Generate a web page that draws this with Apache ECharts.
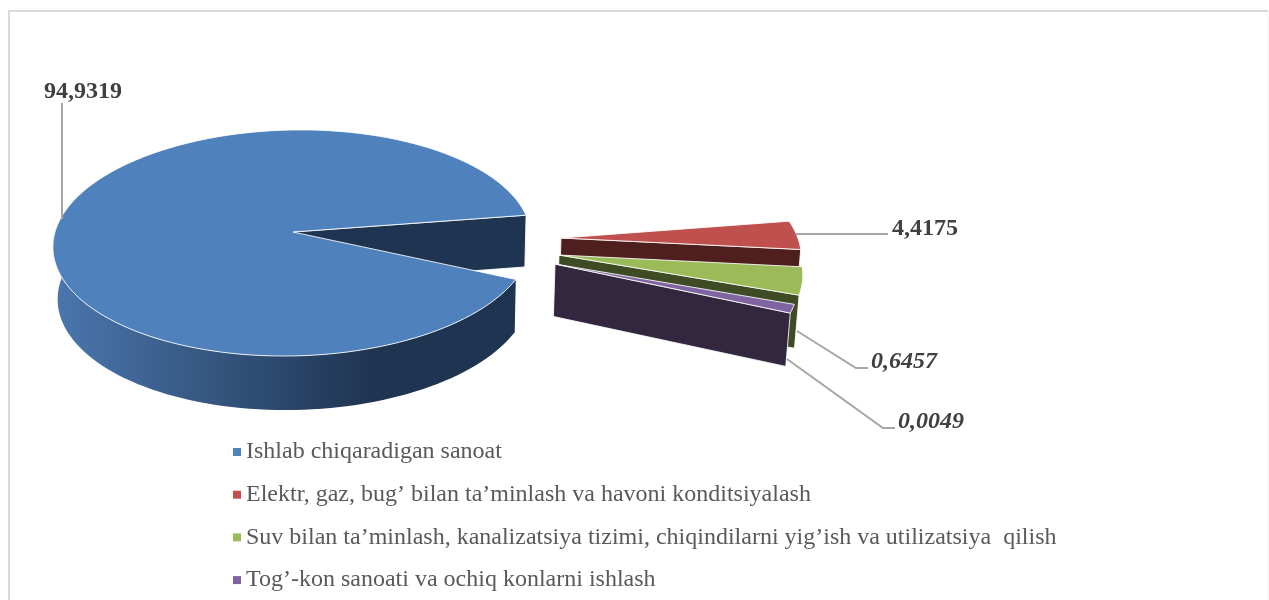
<!DOCTYPE html>
<html>
<head>
<meta charset="utf-8">
<style>
  html, body { margin: 0; padding: 0; background: #fff; }
  #chart { width: 1269px; height: 600px; }
</style>
</head>
<body>
<div id="chart"></div>
<script src="https://cdn.jsdelivr.net/npm/echarts@6/dist/echarts.min.js"></script>
<script>
// categories, in legend order
const categories = [
  'Ishlab chiqaradigan sanoat',
  'Elektr, gaz, bug’ bilan ta’minlash va havoni konditsiyalash',
  'Suv bilan ta’minlash, kanalizatsiya tizimi, chiqindilarni yig’ish va utilizatsiya  qilish',
  'Tog’-kon sanoati va ochiq konlarni ishlash'
];
// the numbers printed beside the slices
const valueLabels = ['94,9319', '4,4175', '0,6457', '0,0049'];
// slice sizes as drawn in the picture (% of the circle); they differ from the printed numbers
const drawnShares = [90.9, 4.05, 3.85, 1.2];

// pie layout
const startDeg = 24;
const radiusX = 238;
const radiusY = 112;
const perspective = 0.097;
const cameraX = 380;
const wallCameraX = 430;
const horizonY = 232;
const depth = 52;
const apexes = [[293, 232], [561, 238], [559, 255], [555, 264]];
const sliceRadius = [1, 0.99, 0.99, 0.98];

// colours
const topColors = ['#4f81bd', '#c0504d', '#9bbb59', '#8064a2'];
const sideColors = ['#1f3450', '#4f1f1d', '#3f4c23', '#33273f'];
const blueWall = {
  type: 'linear', x: 58, y: 0, x2: 375, y2: 0, global: true,
  colorStops: [{offset: 0, color: '#4a76ad'}, {offset: 1, color: '#1f3450'}]
};

// leader lines and text spots
const leaders = [
  [[62, 103], [62, 219]],
  [[796, 234], [888, 234]],
  [[797, 331], [856, 368], [868, 368]],
  [[787, 359], [883, 428], [895, 428]]
];
const labelSpots = [[83, 92], [925, 229], [904, 362], [931, 422]];
const labelItalic = [false, false, true, true];

// top plane point for a screen angle, seen through a simple camera
function topPoint(apex, deg, r) {
  const a = (apex[1] - horizonY) / radiusY;
  const v0 = a / (1 + perspective * a);
  const x0 = cameraX + (apex[0] - cameraX) * (1 - perspective * v0);
  const t = deg * Math.PI / 180;
  const worldX = x0 + radiusX * Math.cos(t) * r;
  const worldV = v0 + Math.sin(t) * r;
  const w = 1 - perspective * worldV;
  return [cameraX + (worldX - cameraX) / w, horizonY + radiusY * worldV / w];
}

// same point at the bottom of the pie
function bottomPoint(p) {
  return [p[0] - (p[0] - wallCameraX) * 0.0125, p[1] + depth + 0.016 * (p[1] - horizonY)];
}

function arcPoints(apex, from, to, r) {
  const pts = [];
  const n = Math.max(2, Math.ceil(Math.abs(to - from) / 2));
  for (let i = 0; i <= n; i++) {
    pts.push(topPoint(apex, from + (to - from) * i / n, r));
  }
  return pts;
}

function sliceStart(index) {
  let from = startDeg;
  for (let i = 0; i < index; i++) from += drawnShares[i] * 3.6;
  return from;
}

function renderSlice(index) {
  return function (params, api) {
    const share = api.value(1);
    const apex = apexes[index];
    const r = sliceRadius[index];
    const from = sliceStart(index);
    const to = from + share * 3.6;
    const edge = {stroke: 'rgba(255,255,255,0.85)', lineWidth: 1};
    const children = [];

    // cut face that looks towards the viewer
    const endTop = topPoint(apex, to, r);
    children.push({
      type: 'polygon',
      shape: {points: [apex, endTop, bottomPoint(endTop), bottomPoint(apex)]},
      style: Object.assign({fill: sideColors[index]}, edge)
    });

    // outer wall, front half only
    const wallFrom = Math.max(from, 0);
    const wallTo = Math.min(to, 184);
    if (wallTo > wallFrom) {
      const arc = arcPoints(apex, wallFrom, wallTo, r);
      const under = arc.map(bottomPoint).reverse();
      children.push({
        type: 'polygon',
        shape: {points: arc.concat(under)},
        style: {fill: index === 0 ? blueWall : sideColors[index], stroke: index === 0 ? 'transparent' : 'rgba(255,255,255,0.85)', lineWidth: 1}
      });
    }

    // top surface
    children.push({
      type: 'polygon',
      shape: {points: [apex].concat(arcPoints(apex, from, to, r))},
      style: Object.assign({fill: topColors[index]}, edge)
    });

    // leader and number
    children.push({
      type: 'polyline',
      shape: {points: leaders[index]},
      style: {stroke: '#a6a6a6', lineWidth: 2, fill: null}
    });
    children.push({
      type: 'text',
      x: labelSpots[index][0],
      y: labelSpots[index][1],
      style: {
        text: valueLabels[index],
        fill: '#404040',
        font: (labelItalic[index] ? 'italic ' : '') + 'bold 24px "Liberation Serif"',
        align: 'center',
        verticalAlign: 'middle'
      }
    });
    return {type: 'group', children: children};
  };
}

const chart = echarts.init(document.getElementById('chart'), null, {renderer: 'canvas'});
chart.setOption({
  animation: false,
  backgroundColor: '#fff',
  graphic: [
    {
      type: 'polyline',
      silent: true,
      shape: {points: [[9, 600], [9, 11], [1268, 11]]},
      style: {stroke: '#d9d9d9', lineWidth: 2, fill: null}
    },
    {
      type: 'line',
      silent: true,
      shape: {x1: 1268, y1: 11, x2: 1268, y2: 600},
      style: {stroke: '#f0f0f0', lineWidth: 1}
    }
  ],
  legend: {
    orient: 'vertical',
    left: 228,
    top: 435,
    itemWidth: 8,
    itemHeight: 8,
    itemGap: 18.7,
    icon: 'rect',
    selectedMode: false,
    textStyle: {fontFamily: 'Liberation Serif', fontSize: 24, color: '#595959'},
    data: categories
  },
  series: categories.map((name, i) => ({
    type: 'custom',
    name: name,
    coordinateSystem: 'none',
    silent: true,
    itemStyle: {color: topColors[i]},
    renderItem: renderSlice(i),
    data: [[i, drawnShares[i]]]
  }))
});
window.addEventListener('resize', () => chart.resize());
</script>
</body>
</html>
